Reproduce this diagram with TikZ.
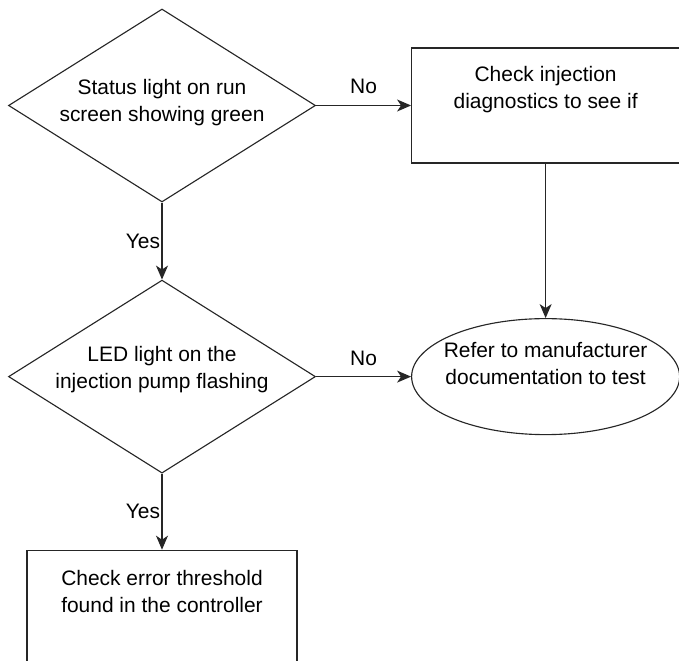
\documentclass[tikz,border=0pt]{standalone}
\usepackage{fontspec}
\setmainfont{Liberation Sans}
\usepackage{tikz}
\usetikzlibrary{shapes.geometric, arrows.meta, positioning}

\begin{document}
\begin{tikzpicture}[
    node distance=1.9cm,
    decision/.style={diamond, draw=black!85, line width=0.8pt, aspect=1.59, inner sep=-0.3cm, minimum width=7.675cm, minimum height=4.825cm, align=center, font=\fontsize{14.9pt}{19.2pt}\selectfont},
    process/.style={rectangle, draw=black!85, line width=0.8pt, minimum width=6.7cm, minimum height=2.875cm, inner sep=0pt, align=center, font=\fontsize{14.9pt}{19.2pt}\selectfont},
    terminal/.style={ellipse, draw=black!85, line width=0.8pt, inner xsep=-0.5cm, inner ysep=0pt, minimum width=6.7cm, minimum height=2.9cm, align=center, font=\fontsize{14.9pt}{19.2pt}\selectfont},
    arrow/.style={-{Stealth[length=0.35cm, width=0.3cm, inset=0.1cm]}, line width=0.8pt, draw=black!85},
    label/.style={font=\fontsize{14.9pt}{19.2pt}\selectfont, inner sep=1pt}
]
\useasboundingbox (-4.05,2.6375) rectangle (12.925,-13.8875);

% Decisions
\node[decision, text depth=0.26cm] (status) at (0,0) {Status light on run\\screen showing green};
\node[decision, below=1.925cm of status, text depth=0.46cm] (ledpump) {LED light on the\\injection pump flashing};

% Actions
\node[process, right=2.375cm of status, text depth=0.9cm] (diag) {Check injection\\diagnostics to see if};
\node[terminal, right=2.375cm of ledpump, text depth=0.65cm] (manual) {Refer to manufacturer\\documentation to test};
\node[process, below=1.9cm of ledpump, minimum width=6.75cm, text depth=0.83cm] (threshold) {Check error threshold\\found in the controller};

% Connectors
\draw[arrow] (status) -- node[label, above=0.25cm] {No} (diag);
\draw[arrow] (status) -- node[label, left] {Yes} (ledpump);
\draw[arrow] (diag) -- (manual);
\draw[arrow] (ledpump) -- node[label, above=0.22cm] {No} (manual);
\draw[arrow] (ledpump) -- node[label, left] {Yes} (threshold);

\end{tikzpicture}
\end{document}
